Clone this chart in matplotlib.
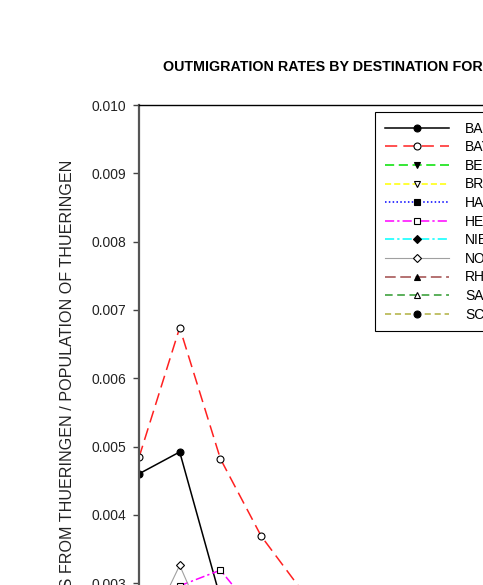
"""Outmigration rates from Thueringen by destination state (cropped view)."""
import matplotlib
matplotlib.use("Agg")
import matplotlib.pyplot as plt

plt.rcParams["font.family"] = ["Liberation Sans", "DejaVu Sans"]

YEARS = [1991, 1992, 1993, 1994, 1995, 1996, 1997, 1998, 1999, 2000]
STATES = ["BADEN-WUERTTEMBERG", "BAYERN", "BERLIN", "BREMEN", "HAMBURG", "HESSEN",
          "NIEDERSACHSEN", "NORDRHEIN-WESTFALEN", "RHEINLAND-PFALZ", "SAARLAND",
          "SCHLESWIG-HOLSTEIN"]
# rates (outmigrants / population); points below 0.003 are estimated (cropped off)
BADEN = [0.00460, 0.00492, 0.00278, 0.00220, 0.00190, 0.00175, 0.00165, 0.00160, 0.00158, 0.00155]
BAYERN = [0.00484, 0.00674, 0.00482, 0.00369, 0.00289, 0.00250, 0.00235, 0.00228, 0.00225, 0.00222]
BERLIN = [0.00060, 0.00070, 0.00055, 0.00050, 0.00048, 0.00047, 0.00046, 0.00046, 0.00045, 0.00045]
BREMEN = [0.00015, 0.00020, 0.00014, 0.00012, 0.00011, 0.00010, 0.00010, 0.00010, 0.00009, 0.00009]
HAMBURG = [0.00030, 0.00040, 0.00030, 0.00026, 0.00024, 0.00023, 0.00022, 0.00022, 0.00021, 0.00021]
HESSEN = [0.00240, 0.00296, 0.00319, 0.00246, 0.00200, 0.00180, 0.00170, 0.00165, 0.00160, 0.00158]
NIEDERSACHSEN = [0.00200, 0.00260, 0.00210, 0.00170, 0.00150, 0.00140, 0.00135, 0.00130, 0.00128, 0.00126]
NORDRHEIN = [0.00202, 0.00326, 0.00190, 0.00160, 0.00140, 0.00130, 0.00125, 0.00122, 0.00120, 0.00118]
RHEINLAND = [0.00050, 0.00065, 0.00052, 0.00045, 0.00042, 0.00040, 0.00039, 0.00038, 0.00038, 0.00037]
SAARLAND = [0.00010, 0.00012, 0.00009, 0.00008, 0.00008, 0.00007, 0.00007, 0.00007, 0.00007, 0.00007]
SCHLESWIG = [0.00040, 0.00055, 0.00042, 0.00036, 0.00033, 0.00032, 0.00031, 0.00030, 0.00030, 0.00030]
SERIES = [BADEN, BAYERN, BERLIN, BREMEN, HAMBURG, HESSEN, NIEDERSACHSEN, NORDRHEIN,
          RHEINLAND, SAARLAND, SCHLESWIG]

# (color, dashes, marker, filled)
STYLES = [
    ("black", None, "o", True),
    ("#ff2020", (8, 4), "o", False),
    ("#00e000", (6, 3, 6, 3), "v", True),
    ("#ffff00", (4, 2), "v", False),
    ("#0000ff", (1, 1.5), "s", True),
    ("#ff00ff", (6, 2, 1.5, 2), "s", False),
    ("#00ffff", (6, 2, 1.5, 2), "D", True),
    ("#a0a0a0", None, "D", False),
    ("#a04a4a", (7, 3), "^", True),
    ("#2e9a2e", (5, 3), "^", False),
    ("#b0b040", (4, 2.5), "o", True),
]

W, H = 483, 585
fig = plt.figure(figsize=(W / 100, H / 100), dpi=100)
# axes extend past the figure edges (chart is a crop of a larger page)
ax = fig.add_axes([139 / W, 1 - 788 / H, 9 * 40.7 / W, 683 / H])

for name, vals, (col, dash, mk, filled) in zip(STATES, SERIES, STYLES):
    kw = dict(color=col, lw=1.1 if col != "#a0a0a0" else 0.8, marker=mk,
              ms=5 if mk != "D" else 4.2, mec="black", mew=0.8,
              mfc="black" if filled else "white", label=name)
    line, = ax.plot(YEARS, vals, **kw)
    if dash:
        line.set_dashes(dash)

ax.set_xlim(YEARS[0], YEARS[-1])
ax.set_ylim(0, 0.010)
ax.set_yticks([i / 1000 for i in range(11)])
ax.set_yticklabels([f"{i / 1000:.3f}" for i in range(11)])
ax.tick_params(axis="y", direction="out", length=4, width=1, color="#444444",
               labelsize=10, labelcolor="#222222", pad=5)
ax.spines["left"].set_color("#555555")
ax.spines["left"].set_linewidth(1.6)
ax.spines["top"].set_linewidth(1.0)
ax.spines["right"].set_linewidth(1.0)

leg = ax.legend(loc="upper left", bbox_to_anchor=(375 / W, 1 - 112 / H),
                bbox_transform=fig.transFigure, fontsize=10, frameon=True,
                fancybox=False, edgecolor="black", framealpha=1, numpoints=1,
                handlelength=4.6, handletextpad=1.2, labelspacing=0.33,
                borderpad=0.7, borderaxespad=0)
leg.get_frame().set_linewidth(0.8)

fig.text(163 / W, 1 - 67 / H, "OUTMIGRATION RATES BY DESTINATION FOR THUERINGEN",
         ha="left", va="center", fontsize=10.3, fontweight="bold")
fig.text(68 / W, 1 - 160 / H, "OUTMIGRANTS FROM THUERINGEN / POPULATION OF THUERINGEN",
         rotation=90, ha="center", va="top", fontsize=11.6, color="#222222")

fig.savefig("out.png", dpi=100)
